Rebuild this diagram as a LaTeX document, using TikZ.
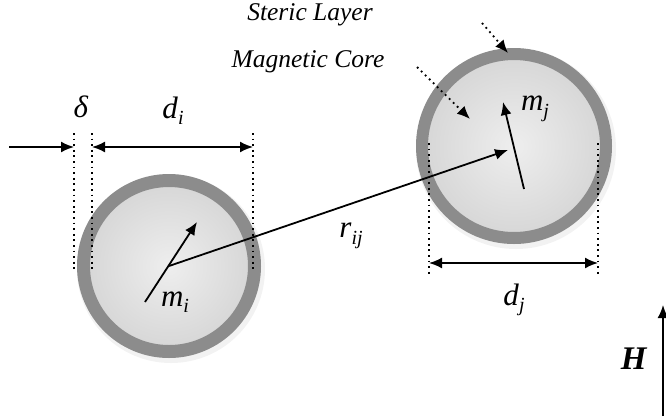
\documentclass[tikz,border=0pt]{standalone}
\usepackage{fontspec}
\setmainfont{Liberation Serif}
\usetikzlibrary{arrows.meta}
\definecolor{ringgray}{RGB}{140,140,140}
\definecolor{coreinner}{RGB}{238,238,238}
\definecolor{coreouter}{RGB}{214,214,214}
\newcommand{\symb}[2]{\textit{#1}\raisebox{-0.45ex}{\fontsize{20}{23}\selectfont\textit{#2}}}
\begin{document}
\begin{tikzpicture}[x=1pt,y=-1pt,
  particle/.style={circle, inner sep=0pt, outer sep=0pt, draw=ringgray, inner color=coreinner, outer color=coreouter},
  dimline/.style={line width=1.8pt, {Latex[length=13pt,width=11pt]}-{Latex[length=13pt,width=11pt]}},
  vec/.style={line width=1.8pt, -{Latex[length=13pt,width=11pt]}},
  guide/.style={line width=1.8pt, dash pattern=on 1.8pt off 3.8pt},
  pointer/.style={line width=1.8pt, dash pattern=on 1.8pt off 3.8pt, -{Latex[length=13pt,width=11pt]}},
  biglabel/.style={inner sep=0pt, font=\fontsize{31}{35}\selectfont},
  smalllabel/.style={inner sep=0pt, font=\fontsize{25.5}{29}\selectfont\itshape}
]
\useasboundingbox (0,0) rectangle (666,416);
% shadows
\fill[black, opacity=0.05] (171,269) circle (94);
\fill[black, opacity=0.05] (516,149) circle (100);
% particles
\node[particle, minimum size=171pt, line width=13pt] (pi) at (169,266) {};
\node[particle, minimum size=184pt, line width=12pt] (pj) at (514,146) {};
% guides left
\coordinate (gl1t) at (74,133); \coordinate (gl1b) at (74,270);
\coordinate (gl2t) at (92,133); \coordinate (gl2b) at (92,270);
\coordinate (gl3t) at (253,133); \coordinate (gl3b) at (253,270);
\draw[guide] (gl1t) -- (gl1b);
\draw[guide] (gl2t) -- (gl2b);
\draw[guide] (gl3t) -- (gl3b);
% guides right
\coordinate (gr1t) at (429,143); \coordinate (gr1b) at (429,277);
\coordinate (gr2t) at (598,143); \coordinate (gr2b) at (598,277);
\draw[guide] (gr1t) -- (gr1b);
\draw[guide] (gr2t) -- (gr2b);
% dimension arrows
\coordinate (inL) at (9,147); \coordinate (inR) at (74,147);
\draw[vec] (inL) -- (inR);
\coordinate (diL) at (92,147); \coordinate (diR) at (253,147);
\draw[dimline] (diL) -- (diR);
\coordinate (djL) at (429,263); \coordinate (djR) at (598,263);
\draw[dimline] (djL) -- (djR);
% moments
\coordinate (mit) at (145,302); \coordinate (mih) at (197,222);
\draw[vec] (mit) -- (mih);
\coordinate (mjt) at (524,189); \coordinate (mjh) at (503,102);
\draw[vec] (mjt) -- (mjh);
% r_ij
\coordinate (rjh) at (508,150);
\draw[vec] (pi.center) -- (rjh);
% pointers
\coordinate (mcS) at (417,67); \coordinate (mcE) at (470,119);
\draw[pointer] (mcS) -- (mcE);
\coordinate (slS) at (482,23); \coordinate (slE) at (508,53);
\draw[pointer] (slS) -- (slE);
% field
\coordinate (hB) at (663,416); \coordinate (hT) at (663,305);
\draw[vec] (hB) -- (hT);
% labels
\node[biglabel] (delta) at (81,107) {\textit{δ}};
\node[biglabel] (dilab) at (173,111) {\symb{d}{i}};
\node[biglabel] (milab) at (175,302) {\symb{m}{i}};
\node[biglabel] (mjlab) at (535,109) {\symb{m}{j}};
\node[biglabel] (rlab) at (351,236) {\symb{r}{ij}};
\node[biglabel] (djlab) at (514,300) {\symb{d}{j}};
\node[biglabel, font=\fontsize{33}{37}\selectfont] (hlab) at (634,359) {\textbf{\textit{H}}};
\node[smalllabel] (mclab) at (308,62) {Magnetic Core};
\node[smalllabel] (sllab) at (310,15) {Steric Layer};
\end{tikzpicture}
\end{document}
